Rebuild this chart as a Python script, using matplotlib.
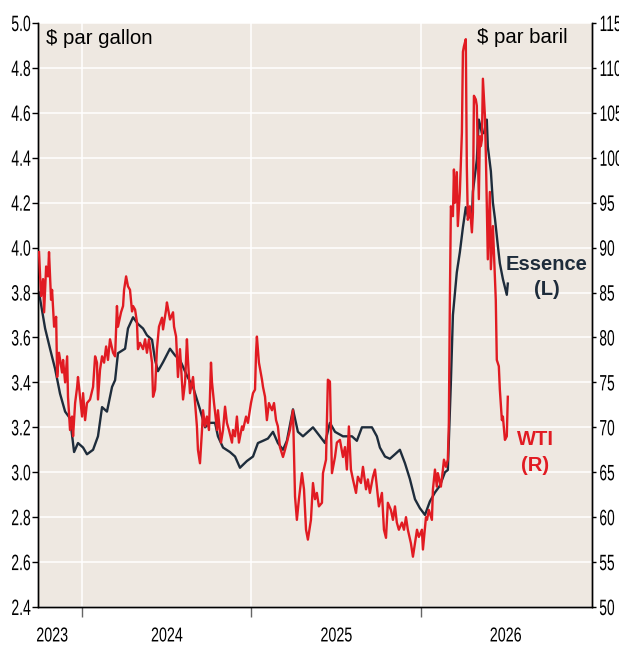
import matplotlib
matplotlib.use("Agg")
import matplotlib.pyplot as plt
import numpy as np
from matplotlib.patheffects import AbstractPathEffect
from matplotlib.ticker import FixedLocator, FormatStrFormatter, MultipleLocator
from matplotlib.transforms import Affine2D

# gasoline, $ per gallon (left axis); time in decimal years
gas_t = [
    2023.746, 2023.782, 2023.811, 2023.841, 2023.870, 2023.900, 2023.929, 2023.953,
    2023.976, 2024.006, 2024.029, 2024.065, 2024.094, 2024.118, 2024.147, 2024.177,
    2024.195, 2024.212, 2024.254, 2024.271, 2024.301, 2024.330, 2024.360, 2024.383,
    2024.413, 2024.431, 2024.448, 2024.478, 2024.519, 2024.549, 2024.578, 2024.619,
    2024.655, 2024.696, 2024.726, 2024.755, 2024.785, 2024.802, 2024.832, 2024.873,
    2024.903, 2024.932, 2024.973, 2025.009, 2025.038, 2025.068, 2025.097, 2025.127,
    2025.156, 2025.186, 2025.209, 2025.245, 2025.274, 2025.304, 2025.363, 2025.404,
    2025.434, 2025.463, 2025.493, 2025.540, 2025.593, 2025.622, 2025.652, 2025.681,
    2025.711, 2025.740, 2025.758, 2025.788, 2025.817, 2025.847, 2025.876, 2025.906,
    2025.935, 2025.965, 2025.994, 2026.024, 2026.053, 2026.083, 2026.112, 2026.142,
    2026.159, 2026.171, 2026.177, 2026.189, 2026.212, 2026.230, 2026.248, 2026.265,
    2026.277, 2026.301, 2026.307, 2026.330, 2026.342, 2026.360, 2026.372, 2026.389,
    2026.395, 2026.413, 2026.425, 2026.437, 2026.454, 2026.466, 2026.484, 2026.507,
    2026.513,
]
gas_val = [
    3.80, 3.64, 3.55, 3.46, 3.35, 3.27, 3.24, 3.09,
    3.13, 3.11, 3.08, 3.10, 3.16, 3.29, 3.27, 3.38,
    3.41, 3.53, 3.55, 3.64, 3.69, 3.66, 3.64, 3.61,
    3.59, 3.50, 3.45, 3.49, 3.55, 3.52, 3.50, 3.43,
    3.38, 3.28, 3.20, 3.22, 3.22, 3.16, 3.11, 3.09,
    3.07, 3.02, 3.05, 3.07, 3.13, 3.14, 3.15, 3.18,
    3.13, 3.10, 3.14, 3.28, 3.18, 3.16, 3.20, 3.16,
    3.13, 3.22, 3.18, 3.16, 3.16, 3.14, 3.20, 3.20,
    3.20, 3.16, 3.11, 3.07, 3.06, 3.08, 3.10, 3.04,
    2.97, 2.88, 2.84, 2.81, 2.87, 2.91, 2.94, 3.00,
    3.01, 3.27, 3.40, 3.70, 3.89, 3.98, 4.09, 4.18,
    4.14, 4.13, 4.25, 4.39, 4.57, 4.51, 4.51, 4.57,
    4.45, 4.34, 4.20, 4.13, 4.01, 3.93, 3.86, 3.79,
    3.84,
]

# WTI crude, $ per barrel (right axis)
wti_t = [
    2023.746, 2023.758, 2023.770, 2023.776, 2023.788, 2023.799, 2023.805, 2023.817,
    2023.823, 2023.835, 2023.847, 2023.853, 2023.864, 2023.882, 2023.888, 2023.900,
    2023.912, 2023.917, 2023.929, 2023.941, 2023.947, 2023.959, 2023.971, 2023.976,
    2023.988, 2024.000, 2024.006, 2024.018, 2024.029, 2024.047, 2024.065, 2024.077,
    2024.088, 2024.094, 2024.106, 2024.118, 2024.130, 2024.142, 2024.153, 2024.165,
    2024.183, 2024.195, 2024.206, 2024.212, 2024.230, 2024.242, 2024.248, 2024.260,
    2024.271, 2024.283, 2024.295, 2024.301, 2024.313, 2024.324, 2024.330, 2024.342,
    2024.360, 2024.372, 2024.383, 2024.395, 2024.413, 2024.419, 2024.431, 2024.442,
    2024.454, 2024.472, 2024.478, 2024.496, 2024.501, 2024.519, 2024.537, 2024.543,
    2024.555, 2024.566, 2024.578, 2024.590, 2024.596, 2024.608, 2024.619, 2024.625,
    2024.637, 2024.655, 2024.667, 2024.678, 2024.684, 2024.696, 2024.708, 2024.714,
    2024.726, 2024.737, 2024.749, 2024.761, 2024.767, 2024.779, 2024.797, 2024.802,
    2024.820, 2024.832, 2024.844, 2024.855, 2024.867, 2024.885, 2024.891, 2024.903,
    2024.914, 2024.926, 2024.944, 2024.950, 2024.968, 2024.979, 2024.997, 2025.009,
    2025.021, 2025.027, 2025.032, 2025.044, 2025.062, 2025.068, 2025.080, 2025.091,
    2025.103, 2025.121, 2025.133, 2025.145, 2025.156, 2025.168, 2025.186, 2025.198,
    2025.209, 2025.227, 2025.245, 2025.257, 2025.268, 2025.280, 2025.298, 2025.310,
    2025.322, 2025.333, 2025.351, 2025.363, 2025.375, 2025.386, 2025.398, 2025.416,
    2025.422, 2025.440, 2025.451, 2025.463, 2025.475, 2025.493, 2025.504, 2025.522,
    2025.540, 2025.552, 2025.563, 2025.575, 2025.587, 2025.599, 2025.617, 2025.628,
    2025.646, 2025.658, 2025.676, 2025.687, 2025.699, 2025.717, 2025.729, 2025.740,
    2025.752, 2025.770, 2025.782, 2025.794, 2025.805, 2025.823, 2025.835, 2025.847,
    2025.858, 2025.870, 2025.888, 2025.900, 2025.912, 2025.923, 2025.941, 2025.953,
    2025.965, 2025.977, 2025.988, 2026.006, 2026.012, 2026.030, 2026.036, 2026.047,
    2026.065, 2026.071, 2026.083, 2026.094, 2026.100, 2026.118, 2026.130, 2026.136,
    2026.148, 2026.159, 2026.165, 2026.171, 2026.177, 2026.189, 2026.195, 2026.201,
    2026.212, 2026.218, 2026.230, 2026.242, 2026.248, 2026.254, 2026.265, 2026.271,
    2026.277, 2026.289, 2026.301, 2026.307, 2026.313, 2026.324, 2026.330, 2026.342,
    2026.348, 2026.354, 2026.360, 2026.366, 2026.378, 2026.384, 2026.389, 2026.395,
    2026.407, 2026.413, 2026.425, 2026.431, 2026.442, 2026.448, 2026.460, 2026.466,
    2026.478, 2026.484, 2026.496, 2026.507, 2026.513,
]
wti_val = [
    89.5, 84.6, 86.5, 82.8, 87.9, 86.8, 89.5, 84.2,
    85.3, 81.2, 82.3, 75.6, 78.3, 76.1, 77.5, 75.0,
    77.9, 73.4, 69.7, 71.2, 69.0, 72.7, 74.5, 75.6,
    73.4, 71.2, 73.8, 70.8, 72.7, 73.1, 74.5, 77.9,
    77.2, 73.1, 76.4, 77.9, 77.2, 79.0, 77.5, 79.8,
    78.3, 77.9, 83.5, 81.2, 82.8, 83.5, 85.3, 86.8,
    85.7, 85.3, 82.9, 83.5, 83.1, 81.7, 78.7, 79.4,
    78.7, 79.8, 78.3, 79.8, 77.2, 73.4, 74.2, 78.7,
    81.2, 82.2, 80.9, 83.1, 83.9, 82.0, 82.8, 81.2,
    80.1, 75.6, 78.7, 75.0, 73.1, 75.0, 79.8, 77.5,
    73.8, 75.6, 72.7, 70.1, 67.5, 66.0, 69.7, 71.9,
    70.1, 71.2, 69.7, 77.2, 75.0, 72.7, 69.7, 71.9,
    68.3, 69.7, 72.3, 70.5, 69.7, 68.3, 69.7, 69.0,
    71.2, 68.3, 70.1, 69.7, 71.2, 70.5, 72.7, 73.8,
    74.2, 78.3, 80.1, 77.2, 75.3, 74.5, 73.4, 70.8,
    72.7, 71.9, 72.7, 70.8, 70.1, 67.8, 66.7, 67.5,
    68.3, 69.7, 71.9, 62.3, 59.7, 62.0, 64.9, 63.1,
    58.6, 57.5, 59.7, 63.8, 62.0, 62.7, 61.2, 61.6,
    64.9, 66.4, 75.3, 75.1, 64.9, 66.7, 68.3, 68.6,
    66.7, 67.8, 65.3, 70.1, 65.3, 64.2, 62.7, 64.5,
    63.8, 65.6, 63.1, 64.2, 62.7, 64.5, 65.3, 63.4,
    61.2, 62.7, 58.6, 57.7, 61.6, 60.8, 59.7, 61.2,
    59.4, 58.6, 59.4, 58.6, 60.0, 58.6, 57.1, 55.6,
    57.1, 58.6, 57.8, 58.6, 56.4, 60.0, 59.7, 60.8,
    59.7, 63.1, 65.3, 63.4, 64.9, 63.4, 65.3, 66.4,
    65.6, 66.4, 70.5, 84.2, 94.6, 93.5, 98.7, 95.0,
    98.4, 92.4, 96.2, 102.8, 111.8, 112.4, 113.2, 99.1,
    93.1, 94.6, 91.7, 93.9, 106.9, 106.5, 105.8, 95.4,
    102.4, 101.3, 102.0, 108.8, 104.6, 99.8, 94.6, 88.7,
    96.2, 87.6, 92.4, 89.5, 84.2, 77.5, 76.8, 74.2,
    70.8, 71.2, 68.6, 69.0, 73.4,
]

year_labels = ["2023", "2024", "2025", "2026"]
year_label_pos = [2023.823, 2024.5, 2025.5, 2026.5]
year_bounds = [2024, 2025, 2026]

BG = "#EEE8E1"
RED = "#E11B22"
NAVY = "#1E2C3B"
FONT = ["Liberation Sans", "DejaVu Sans"]


class Squeeze(AbstractPathEffect):
    """Draw text glyphs narrower (condensed look), keeping one edge fixed."""

    def __init__(self, sx, anchor):
        super().__init__()
        self.sx = sx
        self.anchor = anchor

    def draw_path(self, renderer, gc, tpath, affine, rgbFace=None):
        bb = tpath.get_extents(affine)
        x0 = {"left": bb.x0, "right": bb.x1, "center": 0.5 * (bb.x0 + bb.x1)}[self.anchor]
        tr = affine + Affine2D().translate(-x0, 0).scale(self.sx, 1).translate(x0, 0)
        renderer.draw_path(gc, tpath, tr, rgbFace)


fig = plt.figure(figsize=(6.19, 6.45), dpi=100)
ax = fig.add_axes([0.0614, 0.0589, 0.895, 0.9054])
ax2 = ax.twinx()

ax.set_facecolor(BG)
ax.set_xlim(2023.74, 2027.01)
ax.set_ylim(2.4, 5.0)
ax2.set_ylim(50, 115)

ax.plot(gas_t, gas_val, color=NAVY, lw=1.7, zorder=3)
ax2.plot(wti_t, wti_val, color=RED, lw=1.7, zorder=3)

ax.yaxis.set_major_locator(MultipleLocator(0.2))
ax2.yaxis.set_major_locator(MultipleLocator(5))
ax.xaxis.set_major_locator(FixedLocator(year_bounds))
ax.xaxis.set_major_formatter(plt.NullFormatter())
ax.set_xticks(year_label_pos, labels=year_labels, minor=True)
ax.grid(True, which="major", color="white", lw=1.1)

ax.yaxis.set_major_formatter(FormatStrFormatter("%.1f"))
ax2.yaxis.set_major_formatter(FormatStrFormatter("%d"))

for a in (ax, ax2):
    a.spines["top"].set_visible(False)
    for s in ("left", "right", "bottom"):
        a.spines[s].set_color("black")
        a.spines[s].set_linewidth(1.0)

ax.tick_params(axis="y", length=4, width=1, pad=1, labelsize=16)
ax2.tick_params(axis="y", length=3, width=1, pad=2, labelsize=16)
ax.tick_params(axis="x", which="major", length=7.5, width=1, color="#666666")
ax.tick_params(axis="x", which="minor", length=0, pad=14, labelsize=14.5)

for lab in ax.get_yticklabels():
    lab.set_fontfamily(FONT)
    lab.set_path_effects([Squeeze(0.63, "right")])
for lab in ax2.get_yticklabels():
    lab.set_fontfamily(FONT)
    lab.set_path_effects([Squeeze(0.62, "left")])
for lab in ax.get_xticklabels(minor=True):
    lab.set_fontfamily(FONT)
    lab.set_path_effects([Squeeze(0.71, "center")])

ax.text(0.0144, 0.964, "$ par gallon", transform=ax.transAxes, ha="left",
        va="baseline", fontsize=14.7, family=FONT, color="black", zorder=5)
ax.text(0.792, 0.966, "$ par baril", transform=ax.transAxes, ha="left",
        va="baseline", fontsize=14.7, family=FONT, color="black", zorder=5)

ax2.text(0.918, 0.577, "Essence", transform=ax.transAxes, ha="center",
         va="baseline", fontsize=14.5, family=FONT, fontweight="bold",
         color=NAVY, zorder=5)
ax2.text(0.918, 0.534, "(L)", transform=ax.transAxes, ha="center",
         va="baseline", fontsize=14.5, family=FONT, fontweight="bold",
         color=NAVY, zorder=5)
ax2.text(0.898, 0.277, "WTI", transform=ax.transAxes, ha="center",
         va="baseline", fontsize=14.5, family=FONT, fontweight="bold",
         color=RED, zorder=5)
ax2.text(0.898, 0.233, "(R)", transform=ax.transAxes, ha="center",
         va="baseline", fontsize=14.5, family=FONT, fontweight="bold",
         color=RED, zorder=5)

fig.savefig("out.png", dpi=100)
